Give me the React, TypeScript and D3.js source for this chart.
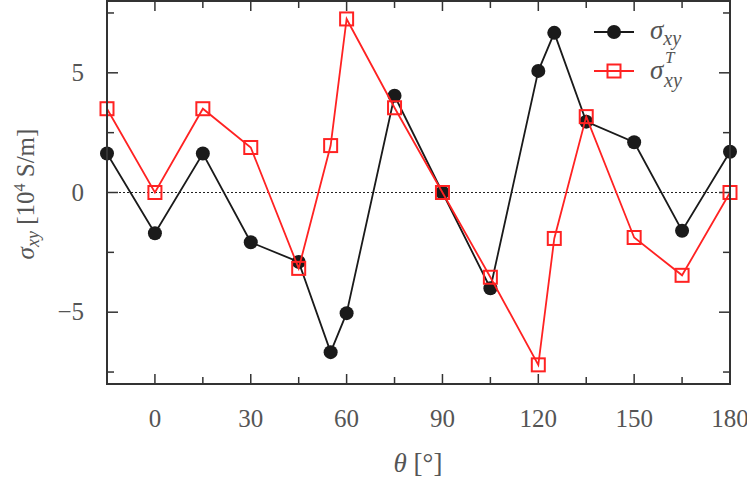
import React from "react";
import * as d3 from "d3";

// angles in degrees
const theta = [-15, 0, 15, 30, 45, 55, 60, 75, 90, 105, 120, 125, 135, 150, 165, 180];
// sigma_xy [10^4 S/m]
const sigmaXY = [1.63, -1.7, 1.63, -2.08, -2.9, -6.67, -5.04, 4.04, 0, -4.0, 5.08, 6.67, 2.96, 2.1, -1.6, 1.7];
// sigma_xy^T
const sigmaXYT = [3.5, 0, 3.5, 1.88, -3.17, 1.96, 7.25, 3.54, 0, -3.54, -7.2, -1.92, 3.17, -1.88, -3.46, 0];

const xTicks = [0, 30, 60, 90, 120, 150, 180];
const xMinor = [-15, 15, 45, 75, 105, 135, 165];
const yTicks = [-5, 0, 5];
const yMinor = [-7.5, -2.5, 2.5, 7.5];

const W = 747, H = 480;
const left = 107, right = 730, top = 1, bottom = 384;
const font = "Liberation Serif, Times New Roman, serif";
const axisCol = "#333";
const textCol = "#555";
const red = "#f22";
const black = "#1a1a1a";

const App = () => {
  const x = d3.scaleLinear().domain([-15, 180]).range([left, right]);
  const y = d3.scaleLinear().domain([-8, 8]).range([bottom, top]);
  const line = d3.line<[number, number]>().x(d => x(d[0])).y(d => y(d[1]));
  const blackPts: [number, number][] = theta.map((t, i) => [t, sigmaXY[i]]);
  const redPts: [number, number][] = theta.map((t, i) => [t, sigmaXYT[i]]);

  return (
    <svg width={W} height={H} style={{ position: "absolute", left: 0, top: 0, fontFamily: font }}>
      <rect width={W} height={H} fill="white" />
      {/* zero line */}
      <line x1={left} x2={right} y1={y(0)} y2={y(0)} stroke="#222" strokeWidth={1.2} strokeDasharray="2,2" />

      {/* ticks */}
      {xTicks.map(t => (
        <g key={"xt" + t}>
          <line x1={x(t)} x2={x(t)} y1={bottom} y2={bottom - 10} stroke={axisCol} strokeWidth={1.5} />
          <line x1={x(t)} x2={x(t)} y1={top} y2={top + 10} stroke={axisCol} strokeWidth={1.5} />
          <text x={x(t)} y={427} textAnchor="middle" fontFamily={font} fontSize={25} fill={textCol}>{t}</text>
        </g>
      ))}
      {xMinor.map(t => (
        <g key={"xm" + t}>
          <line x1={x(t)} x2={x(t)} y1={bottom} y2={bottom - 7} stroke={axisCol} strokeWidth={1.5} />
          <line x1={x(t)} x2={x(t)} y1={top} y2={top + 7} stroke={axisCol} strokeWidth={1.5} />
        </g>
      ))}
      {yTicks.map(t => (
        <g key={"yt" + t}>
          <line x1={left} x2={left + 11} y1={y(t)} y2={y(t)} stroke={axisCol} strokeWidth={1.5} />
          <line x1={right} x2={right - 11} y1={y(t)} y2={y(t)} stroke={axisCol} strokeWidth={1.5} />
          <text x={84} y={y(t) + 8} textAnchor="end" fontFamily={font} fontSize={25} fill={textCol}>
            {t < 0 ? "\u2212" + Math.abs(t) : t}
          </text>
        </g>
      ))}
      {yMinor.map(t => (
        <g key={"ym" + t}>
          <line x1={left} x2={left + 7} y1={y(t)} y2={y(t)} stroke={axisCol} strokeWidth={1.5} />
          <line x1={right} x2={right - 7} y1={y(t)} y2={y(t)} stroke={axisCol} strokeWidth={1.5} />
        </g>
      ))}

      {/* black series */}
      <path d={line(blackPts) || ""} fill="none" stroke={black} strokeWidth={1.8} />
      {blackPts.map((p, i) => (
        <circle key={"b" + i} cx={x(p[0])} cy={y(p[1])} r={7} fill={black} />
      ))}

      {/* red series */}
      <path d={line(redPts) || ""} fill="none" stroke={red} strokeWidth={1.8} />
      {redPts.map((p, i) => (
        <rect key={"r" + i} x={x(p[0]) - 6.5} y={y(p[1]) - 6.5} width={13} height={13} fill="none" stroke={red} strokeWidth={2} />
      ))}

      {/* frame */}
      <rect x={left} y={top} width={right - left} height={bottom - top} fill="none" stroke={axisCol} strokeWidth={2} />

      {/* legend */}
      <line x1={594} x2={634} y1={32} y2={32} stroke={black} strokeWidth={1.8} />
      <circle cx={614} cy={32} r={7} fill={black} />
      <text x={650} y={39} fontFamily={font} fontSize={27} fill={textCol} fontStyle="italic">
        σ<tspan fontSize={20} dy={6}>xy</tspan>
      </text>
      <line x1={594} x2={634} y1={71} y2={71} stroke={red} strokeWidth={1.8} />
      <rect x={607.5} y={64.5} width={13} height={13} fill="none" stroke={red} strokeWidth={2} />
      <text x={650} y={79} fontFamily={font} fontSize={27} fill={textCol} fontStyle="italic">σ</text>
      <text x={665} y={63} fontFamily={font} fontSize={17} fill={textCol} fontStyle="italic">T</text>
      <text x={664} y={87} fontFamily={font} fontSize={20} fill={textCol} fontStyle="italic">xy</text>

      {/* axis labels */}
      <text x={418} y={472} textAnchor="middle" fontFamily={font} fontSize={27} fill={textCol}>
        <tspan fontStyle="italic">θ</tspan> [°]
      </text>
      <text transform={`translate(34, 194) rotate(-90)`} textAnchor="middle" fontFamily={font} fontSize={25} fill={textCol}>
        <tspan fontStyle="italic">σ</tspan><tspan fontStyle="italic" fontSize={18} dy={5}>xy</tspan>
        <tspan dy={-5}> [10</tspan><tspan fontSize={16} dy={-9}>4</tspan><tspan dy={9}> S/m]</tspan>
      </text>
    </svg>
  );
};

export default App;
